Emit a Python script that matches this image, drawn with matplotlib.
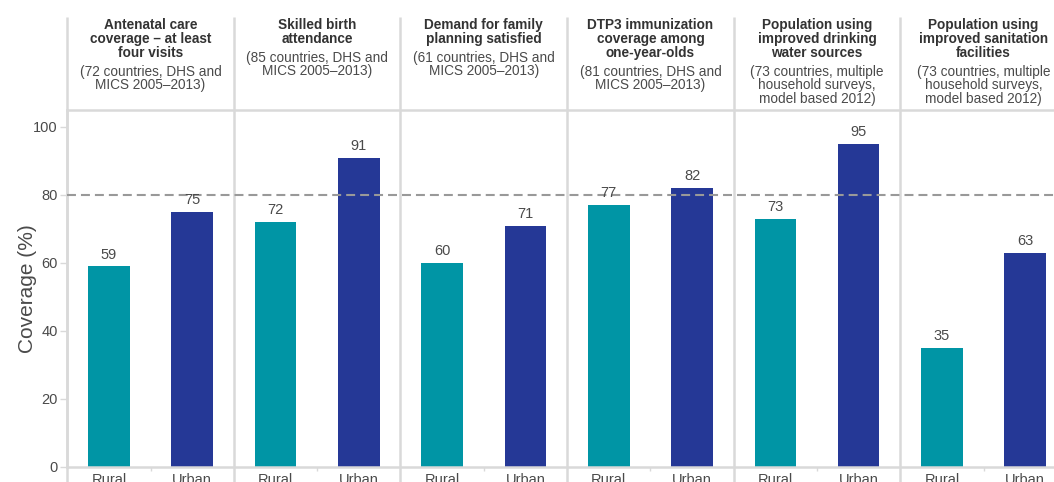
import numpy as np
import matplotlib
matplotlib.use("Agg")
import matplotlib.pyplot as plt
import matplotlib.transforms as mtransforms

plt.rcParams['font.family'] = ['Liberation Sans', 'DejaVu Sans']

# 数据
titles = [
    ["Antenatal care", "coverage \u2013 at least", "four visits"],
    ["Skilled birth", "attendance"],
    ["Demand for family", "planning satisfied"],
    ["DTP3 immunization", "coverage among", "one-year-olds"],
    ["Population using", "improved drinking", "water sources"],
    ["Population using", "improved sanitation", "facilities"],
]
subtitles = [
    ["(72 countries, DHS and", "MICS 2005\u20132013)"],
    ["(85 countries, DHS and", "MICS 2005\u20132013)"],
    ["(61 countries, DHS and", "MICS 2005\u20132013)"],
    ["(81 countries, DHS and", "MICS 2005\u20132013)"],
    ["(73 countries, multiple", "household surveys,", "model based 2012)"],
    ["(73 countries, multiple", "household surveys,", "model based 2012)"],
]
rural = [59, 72, 60, 77, 73, 35]
urban = [75, 91, 71, 82, 95, 63]
group_labels = ["Rural", "Urban"]
target = 80

RURAL_C = "#0095a5"
URBAN_C = "#253896"
LINE_C = "#d9d9d9"
TEXT_C = "#4a4a4a"

W, H = 1054, 482
fig = plt.figure(figsize=(W / 100, H / 100), dpi=100)
# 右侧被裁切，axes 超出画布
left_px, bottom_px, panel_px = 67.3, 467, 166.6
ax = fig.add_axes([left_px / W, (H - bottom_px) / H, 6 * panel_px / W, 357 / H])

n = len(rural)
xr = np.arange(n) * 2 + 0.5
xu = np.arange(n) * 2 + 1.5
bw = 0.5
ax.bar(xr, rural, width=bw, color=RURAL_C, zorder=2)
ax.bar(xu, urban, width=bw, color=URBAN_C, zorder=2)

for x, v in zip(np.concatenate([xr, xu]), rural + urban):
    ax.annotate(str(v), (x, v), xytext=(0, 3.5), textcoords="offset points",
                ha="center", va="bottom", fontsize=10.5, color=TEXT_C, zorder=4)

ax.set_xlim(0, 2 * n)
ax.set_ylim(0, 105)

# 80% 参考线
ax.axhline(target, color="#999999", lw=1.5, dashes=(4.3, 2.4), zorder=3)

# 分隔线
top_data = (bottom_px - 17) / 3.4
for i in range(n + 1):
    ax.plot([2 * i, 2 * i], [-8, top_data], color=LINE_C, lw=1.8,
            clip_on=False, zorder=1, solid_capstyle="butt")

ax.spines["right"].set_visible(False)
for s in ["left", "bottom", "top"]:
    ax.spines[s].set_color(LINE_C)
    ax.spines[s].set_linewidth(1.8)

ax.set_yticks(range(0, 101, 20))
ax.tick_params(axis="y", length=5, width=1, color=LINE_C, labelsize=10.5,
               labelcolor=TEXT_C, pad=2)
ax.set_xticks(np.sort(np.concatenate([xr, xu])))
ax.set_xticklabels(group_labels * n)
ax.set_xticks(np.arange(n) * 2 + 1, minor=True)
ax.tick_params(axis="x", which="major", length=0, labelsize=10.5,
               labelcolor=TEXT_C, pad=4)
ax.tick_params(axis="x", which="minor", length=3, width=1, color=LINE_C)
ax.set_ylabel("Coverage (%)", fontsize=15, color=TEXT_C, labelpad=-3)

# 表头文字
trans = mtransforms.blended_transform_factory(ax.transData, fig.transFigure)
for i, (tl, sl) in enumerate(zip(titles, subtitles)):
    cx = 2 * i + 1
    y = 25
    for line in tl:
        ax.text(cx, 1 - y / H, line, transform=trans, ha="center", va="center",
                fontsize=9.8, fontweight="bold", color="#333333")
        y += 14
    y += 5
    for line in sl:
        ax.text(cx, 1 - y / H, line, transform=trans, ha="center", va="center",
                fontsize=9.8, color=TEXT_C)
        y += 13.5

fig.savefig("out.png", dpi=100)
